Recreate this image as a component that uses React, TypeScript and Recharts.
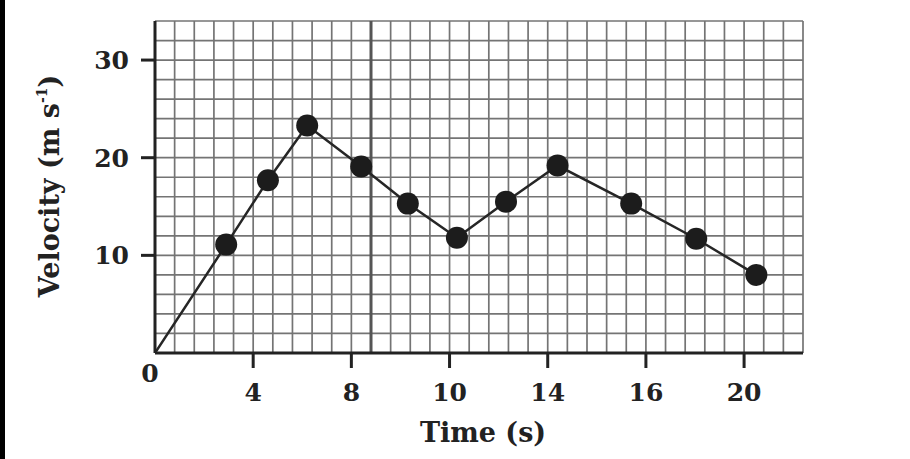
import { CartesianGrid, Label, Line, LineChart, ReferenceLine, XAxis, YAxis } from "recharts";

// x positions are in the picture's evenly spaced axis units (one label step = 4)
const timePos = [0, 2.9, 4.6, 6.2, 8.4, 10.3, 12.3, 14.3, 16.4, 19.4, 22.05, 24.5];
const velocity = [0, 11.1, 17.7, 23.3, 19.1, 15.3, 11.8, 15.5, 19.2, 15.3, 11.7, 8.0];

const xTickPos = [0, 4, 8, 12, 16, 20, 24];
const xTickLabels = ["0", "4", "8", "10", "14", "16", "20"];
const yTickValues = [10, 20, 30];

const gridX = Array.from({ length: 34 }, (_, i) => Math.round(i * 0.8 * 100) / 100);
const gridY = Array.from({ length: 18 }, (_, i) => i * 2);

const data = timePos.map((t, i) => ({ t, v: velocity[i] }));

const font = "'DejaVu Serif', serif";
const ink = "#222";

function XTick(props: any) {
  const { x, y, payload } = props;
  const idx = xTickPos.findIndex((p) => Math.abs(p - payload.value) < 0.01);
  if (idx < 0) return <g />;
  if (idx === 0) {
    return (
      <text x={x - 5} y={y + 29} textAnchor="middle" fontFamily={font} fontWeight="bold" fontSize={25} fill={ink}>
        {xTickLabels[0]}
      </text>
    );
  }
  return (
    <g>
      <line x1={x} x2={x} y1={y} y2={y + 15} stroke={ink} strokeWidth={3} />
      <text x={x} y={y + 48} textAnchor="middle" fontFamily={font} fontWeight="bold" fontSize={25} fill={ink}>
        {xTickLabels[idx]}
      </text>
    </g>
  );
}

function YTick(props: any) {
  const { x, y, payload } = props;
  if (!yTickValues.includes(payload.value)) return <g />;
  return (
    <g>
      <line x1={x - 14} x2={x} y1={y} y2={y} stroke={ink} strokeWidth={3} />
      <text x={x - 26} y={y + 9} textAnchor="end" fontFamily={font} fontWeight="bold" fontSize={25} fill={ink}>
        {payload.value}
      </text>
    </g>
  );
}

function Dot(props: any) {
  const { cx, cy, index } = props;
  if (index === 0) return <g key={index} />;
  return <circle key={index} cx={cx} cy={cy} r={11} fill="#1c1c1c" />;
}

export default function App() {
  return (
    <div style={{ position: "absolute", left: 0, top: 0, width: 910, height: 459, background: "#fff" }}>
      <div style={{ position: "absolute", left: 0, top: 0, width: 5, height: 459, background: "#000" }} />
      <LineChart width={910} height={459} data={data} margin={{ top: 21, right: 107, bottom: 0, left: 0 }}>
        <CartesianGrid stroke="#747474" strokeWidth={1.7} />
        <ReferenceLine x={8.8} stroke="#555" strokeWidth={3} />
        <XAxis
          dataKey="t"
          type="number"
          domain={[0, 26.4]}
          ticks={gridX}
          interval={0}
          height={106}
          tickSize={0}
          tickMargin={0}
          tickLine={false}
          axisLine={{ stroke: ink, strokeWidth: 3 }}
          tick={<XTick />}
          allowDataOverflow
        >
          <Label
            content={(p: any) => {
              const vb = p.viewBox;
              return (
                <text x={vb.x + vb.width / 2 + 4} y={vb.y + 89} textAnchor="middle" fontFamily={font} fontWeight="bold" fontSize={27} fill={ink}>
                  Time (s)
                </text>
              );
            }}
          />
        </XAxis>
        <YAxis
          type="number"
          domain={[0, 34]}
          ticks={gridY}
          interval={0}
          width={155}
          tickSize={0}
          tickMargin={0}
          tickLine={false}
          axisLine={{ stroke: ink, strokeWidth: 3 }}
          tick={<YTick />}
          allowDataOverflow
        >
          <Label
            content={(p: any) => {
              const vb = p.viewBox;
              const cx = vb.x + 59;
              const cy = vb.y + vb.height / 2 - 1;
              return (
                <text
                  x={cx}
                  y={cy}
                  transform={`rotate(-90 ${cx} ${cy})`}
                  textAnchor="middle"
                  fontFamily={font}
                  fontWeight="bold"
                  fontSize={27}
                  fill={ink}
                >
                  Velocity (m s
                  <tspan fontSize={14} dy={-12}>-1</tspan>
                  <tspan dy={12}>)</tspan>
                </text>
              );
            }}
          />
        </YAxis>
        <Line
          type="linear"
          dataKey="v"
          stroke="#262626"
          strokeWidth={2.5}
          dot={<Dot />}
          activeDot={false}
          isAnimationActive={false}
        />
      </LineChart>
    </div>
  );
}
